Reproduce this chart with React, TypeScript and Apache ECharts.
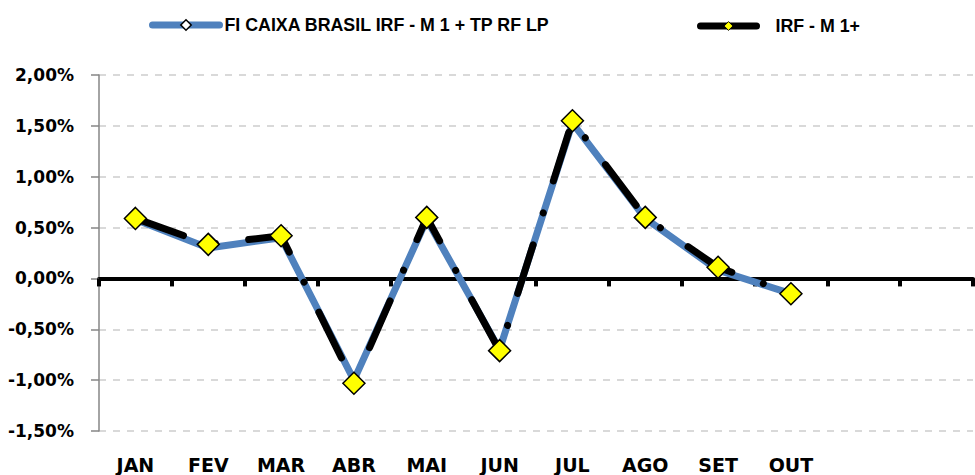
import React, { useEffect, useRef } from "react";
import * as echarts from "echarts";

const categories = ["JAN", "FEV", "MAR", "ABR", "MAI", "JUN", "JUL", "AGO", "SET", "OUT", "", ""];
const fundName = "FI CAIXA BRASIL IRF - M 1 + TP RF LP";
const indexName = "IRF - M 1+";
const fundValues = [0.58, 0.3, 0.4, -1.0, 0.58, -0.7, 1.53, 0.59, 0.08, -0.15];
const indexValues = [0.59, 0.335, 0.42, -1.03, 0.6, -0.71, 1.55, 0.6, 0.11, -0.15];
const yMin = -1.5;
const yMax = 2;
const yStep = 0.5;

const FONT = "'Liberation Sans', Arial, sans-serif";
const AXIS_FONT = "'DejaVu Sans', sans-serif";

export default function App() {
  const ref = useRef<HTMLDivElement>(null);
  useEffect(() => {
    if (!ref.current) return;
    const chart = echarts.init(ref.current, undefined, { renderer: "svg" });
    chart.setOption({
      animation: false,
      backgroundColor: "#ffffff",
      textStyle: { fontFamily: FONT },
      grid: { left: 99, right: 2, top: 75, bottom: 44, containLabel: false, outerBoundsMode: "none" },
      legend: [
        {
          data: [fundName],
          left: 149,
          top: 16,
          padding: 0,
          itemWidth: 67,
          itemHeight: 13,
          lineStyle: { width: 7, type: "solid", cap: "round" },
          itemStyle: { borderWidth: 1.5 },
          textStyle: { fontFamily: FONT, fontWeight: "bold", fontSize: 17.8, color: "#000" },
        },
        {
          data: [indexName],
          left: 697,
          top: 17,
          padding: 0,
          itemWidth: 56,
          itemHeight: 11,
          lineStyle: { width: 7, type: "solid", cap: "round" },
          itemStyle: { borderWidth: 1 },
          textStyle: { fontFamily: FONT, fontWeight: "bold", fontSize: 17.8, color: "#000", padding: [0, 0, 0, 14] },
        },
      ],
      xAxis: [
        {
          type: "category",
          data: categories,
          position: "bottom",
          boundaryGap: true,
          axisLine: { show: false, onZero: false },
          axisTick: { show: false },
          axisLabel: { show: true, margin: 24, fontFamily: AXIS_FONT, fontWeight: "bold", fontSize: 19, color: "#000" },
          splitLine: { show: false },
        },
        {
          type: "category",
          data: categories,
          position: "bottom",
          boundaryGap: true,
          axisLine: { show: true, onZero: true, lineStyle: { color: "#000", width: 4 } },
          axisTick: { show: true, length: 8, lineStyle: { color: "#000", width: 4 } },
          axisLabel: { show: false },
          splitLine: { show: false },
        },
      ],
      yAxis: {
        type: "value",
        min: yMin,
        max: yMax,
        interval: yStep,
        axisLine: { show: true, lineStyle: { color: "#868686", width: 1.5 } },
        axisTick: { show: true, length: 8, lineStyle: { color: "#868686", width: 1.5 } },
        axisLabel: {
          margin: 25,
          fontFamily: AXIS_FONT,
          fontWeight: "bold",
          fontSize: 17,
          color: "#000",
          formatter: (v: number) => v.toFixed(2).replace(".", ",") + "%",
        },
        splitLine: { show: true, lineStyle: { color: "#d9d9d9", width: 2, type: [7, 7] } },
      },
      series: [
        {
          name: fundName,
          type: "line",
          xAxisIndex: 0,
          data: fundValues,
          symbol: "diamond",
          symbolSize: 8,
          lineStyle: { color: "#4F81BD", width: 7 },
          itemStyle: { color: "#ffffff", borderColor: "#000", borderWidth: 1.5 },
        },
        {
          name: indexName,
          type: "line",
          xAxisIndex: 0,
          data: indexValues,
          symbol: "diamond",
          symbolSize: 22,
          lineStyle: { color: "#000", width: 7, type: [51, 33.5, 0.01, 33.5], cap: "round" },
          itemStyle: { color: "#FFFF00", borderColor: "#000", borderWidth: 1.5 },
        },
      ],
    });
    return () => chart.dispose();
  }, []);
  return (
    <div
      ref={ref}
      style={{ position: "fixed", left: 0, top: 0, width: 975, height: 475, background: "#fff" }}
    />
  );
}
